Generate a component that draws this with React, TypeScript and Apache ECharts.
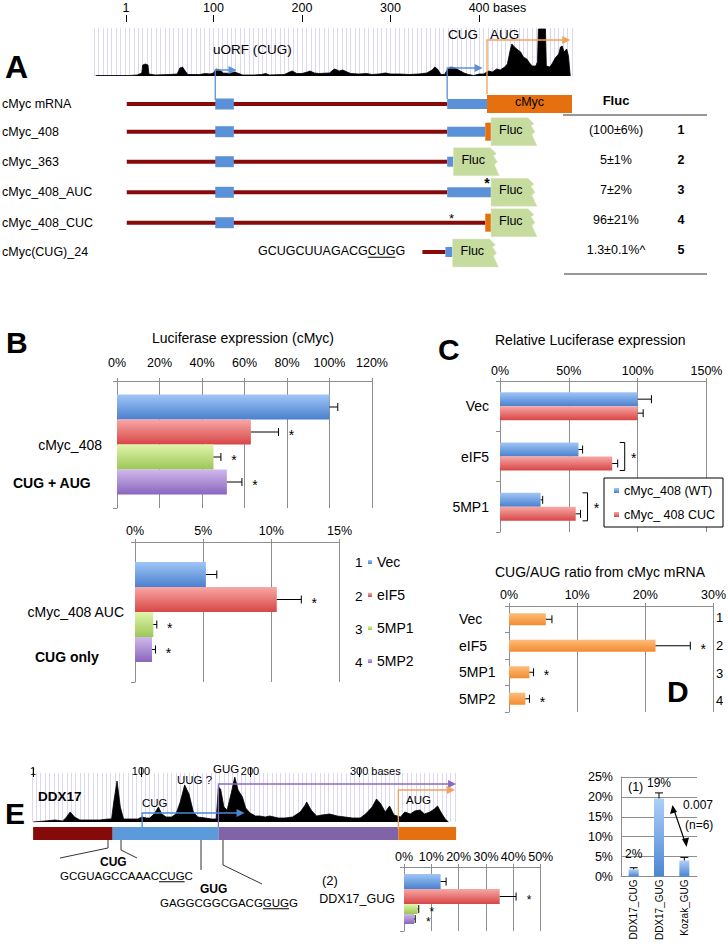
import React, { useEffect, useRef } from 'react';
import * as echarts from 'echarts';

const FONT = '"Liberation Sans", Arial, Helvetica, sans-serif';

// ---------------- Panel A : ribosome footprint coverage on cMyc ----------------
const rulerTicksA = [1, 100, 200, 300, 400];
const coverageA_pos = [-33, 5, 14, 19, 20, 23, 26, 27, 34, 50, 59, 62, 65, 68, 71, 84, 91, 96, 100, 103, 107, 111, 118, 124, 127, 133, 146, 154, 159, 163, 180, 186, 189, 194, 200, 206, 209, 214, 219, 231, 235, 237, 242, 246, 251, 255, 264, 273, 279, 287, 294, 300, 310, 321, 332, 341, 347, 350, 353, 357, 361, 364, 366, 368, 373, 377, 383, 388, 394, 400, 405, 411, 415, 420, 424, 429, 432, 435, 437, 440, 444, 447, 450, 454, 457, 460, 464, 466, 467, 475, 476, 480, 483, 486, 490, 492, 494, 496, 499, 501, 503];
const coverageA_reads = [0.5, 0.5, 1, 3, 11, 12, 11, 2, 1, 1.5, 2, 8, 9, 5, 1.5, 1.5, 2.5, 2, 3, 7, 6, 3, 2.5, 4, 3, 1, 1, 1.5, 2.5, 1, 1.5, 4, 5, 2.5, 2.5, 4, 5, 3, 2.5, 3, 6, 7, 5, 6, 4, 2.5, 2, 2.5, 1.5, 2, 3, 2, 2, 1.5, 2, 3, 6, 9, 7, 1.5, 1.5, 6, 8, 9, 8, 6, 3, 1.5, 0.5, 2, 2, 5, 4, 7, 6, 9, 12, 25, 32, 29, 26, 24, 19, 17, 13, 10, 10, 14, 47, 47, 10, 9, 13, 18, 22, 29, 30, 24, 27, 20, 0];
const constructNames = ['cMyc mRNA', 'cMyc_408', 'cMyc_363', 'cMyc_408_AUC', 'cMyc_408_CUC', 'cMyc(CUG)_24'];
const flucValues = ['(100\u00b16%)', '5\u00b11%', '7\u00b12%', '96\u00b121%', '1.3\u00b10.1%^'];
const flucIds = ['1', '2', '3', '4', '5'];

// ---------------- Panel B ----------------
const bSeriesNames = ['Vec', 'eIF5', '5MP1', '5MP2'];
const bTopCategory = ['cMyc_408'];
const bTop_values = [100, 63.0, 45.4, 51.7];
const bTop_errors = [103.9, 76.0, 48.9, 58.8];
const bTop_stars = [false, true, true, true];
const bBotCategory = ['cMyc_408 AUC'];
const bBot_values = [5.2, 10.4, 1.34, 1.25];
const bBot_errors = [6.0, 12.2, 1.6, 1.5];
const bBot_stars = [false, true, true, true];

// ---------------- Panel C ----------------
const cCategories = ['Vec', 'eIF5', '5MP1'];
const cSeriesNames = ['cMyc_408 (WT)', 'cMyc_ 408 CUC'];
const cWT_values = [100, 57, 29.5];
const cWT_errors = [110, 60, 31];
const cCUC_values = [100, 81.5, 55];
const cCUC_errors = [104, 85.5, 58.5];
const cPairStars = [false, true, true];

// ---------------- Panel D ----------------
const dCategories = ['Vec', 'eIF5', '5MP1', '5MP2'];
const dValues = [5.4, 21.5, 3.0, 2.4];
const dErrors = [6.3, 26.6, 3.6, 3.0];
const dStars = [false, true, true, true];

// ---------------- Panel E ----------------
const rulerTicksE = [1, 100, 200, 300];
const coverageE_pos = [1, 12, 21, 28, 31, 35, 39, 44, 53, 62, 70, 73, 75, 78, 81, 84, 90, 97, 101, 105, 108, 112, 116, 119, 123, 128, 132, 136, 140, 144, 148, 152, 159, 165, 169, 171, 173, 176, 179, 183, 186, 189, 193, 196, 200, 205, 209, 214, 218, 226, 232, 239, 246, 250, 252, 256, 261, 266, 273, 280, 287, 294, 301, 306, 312, 316, 320, 324, 328, 332, 338, 342, 347, 351, 356, 360, 365, 369, 372, 375, 379, 382];
const coverageE_reads = [0, 1, 2, 1, 4, 10, 5, 2, 2, 2, 3, 3, 20, 41, 15, 3, 3, 3, 5, 4, 4, 8, 15, 8, 5, 5, 8, 20, 37, 28, 10, 5, 4, 3, 3, 35, 33, 15, 12, 30, 45, 32, 25, 14, 9, 6, 6, 5, 6, 4, 4, 5, 10, 16, 20, 12, 6, 7, 8, 6, 5, 4, 4, 8, 15, 23, 18, 10, 16, 7, 5, 10, 8, 11, 12, 8, 10, 13, 16, 10, 3, 0];
const eMidCategory = ['DDX17_GUG'];
const eMid_values = [13.4, 35.0, 5.0, 3.7];
const eMid_errors = [15.4, 41.0, 5.4, 4.1];
const eMid_stars = [false, true, true, true];
const eRight_categories = ['DDX17_CUG', 'DDX17_GUG', 'Kozak_GUG'];
const eRight_values = [1.8, 19.6, 4.0];
const eRight_errors = [2.2, 21.0, 4.8];
const eRight_labels = ['2%', '19%', ''];

// ---------------- styling ----------------
const GRAY = '#8e8e8e';
const grad = (a: string, b: string) =>
  new echarts.graphic.LinearGradient(0, 0, 0, 1, [
    { offset: 0, color: a },
    { offset: 1, color: b },
  ]);
const BLUE = ['#A0C6F6', '#4A80CF'];
const RED = ['#F8A8A6', '#D74646'];
const GREEN = ['#E0F5AA', '#9CC657'];
const PURPLE = ['#D0B9EC', '#8966BC'];
const ORANGE = ['#FDBD7A', '#F38B30'];
const FOUR = [BLUE, RED, GREEN, PURPLE];

const measureCtx = typeof document !== 'undefined' ? document.createElement('canvas').getContext('2d') : null;
function textW(t: string, size: number, bold = false) {
  if (!measureCtx) return t.length * size * 0.6;
  measureCtx.font = `${bold ? 'bold ' : ''}${size}px ${FONT}`;
  return measureCtx.measureText(t).width;
}

function txt(text: string, x: number, y: number, size = 12.5, o: any = {}) {
  return {
    type: 'text', x, y, silent: true, z: o.z ?? 20,
    style: {
      text, fill: o.color || '#000', fontSize: size, fontFamily: FONT,
      fontWeight: o.bold ? 'bold' : 'normal', align: o.align || 'left', verticalAlign: 'middle',
    },
  };
}
function rect(x: number, y: number, w: number, h: number, fill: string, z = 10) {
  return { type: 'rect', silent: true, z, shape: { x, y, width: w, height: h }, style: { fill } };
}
function line(pts: number[][], stroke: string, w = 1, z = 12) {
  return { type: 'polyline', silent: true, z, shape: { points: pts }, style: { stroke, lineWidth: w, fill: 'none' } };
}
function headR(x: number, y: number, color: string, s = 4) {
  return { type: 'polygon', silent: true, z: 13, shape: { points: [[x, y], [x - 2 * s, y - s], [x - 2 * s, y + s]] }, style: { fill: color } };
}
function underlinedSeq(pre: string, mid: string, post: string, x: number, y: number, size: number) {
  const w0 = textW(pre, size);
  const w1 = textW(mid, size);
  return [
    txt(pre + mid + post, x, y, size),
    line([[x + w0, y + size * 0.5], [x + w0 + w1, y + size * 0.5]], '#000', 1),
  ];
}
function flucShape(x0: number, yc: number) {
  const t = yc - 14;
  const pts = [[0, 0], [37, 0], [43, 6], [40, 8], [44, 14], [41, 17], [46, 28], [0, 28]].map(([a, b]) => [x0 + a, t + b]);
  return [
    { type: 'polygon', silent: true, z: 11, shape: { points: pts }, style: { fill: '#C6DB9E', stroke: '#dfe9cc', lineWidth: 0.5 } },
    txt('Fluc', x0 + 8, yc - 2, 12.5, { z: 14 }),
  ];
}

// horizontal bar group with error bars drawn through the axes
function hBars(opts: any) {
  const { names, xi, data, err, stars, colors, widths, starGap = 13, starSize = 14, z = 3 } = opts;
  const total = widths.reduce((a: number, b: number) => a + b, 0);
  const out: any[] = [];
  let acc = -total / 2;
  names.forEach((name: string, i: number) => {
    const off = acc + widths[i] / 2;
    acc += widths[i];
    out.push({
      type: 'bar', name, xAxisIndex: xi, yAxisIndex: xi, data: data[i], barWidth: widths[i], barGap: '0%',
      itemStyle: { color: grad(colors[i][0], colors[i][1]) }, z, silent: true,
    });
    out.push({
      type: 'custom', name: name + ' err', xAxisIndex: xi, yAxisIndex: xi, z: z + 2, silent: true,
      encode: { x: [1, 2], y: 0 },
      data: data[i].map((v: number, c: number) => [c, v, err[i][c], stars[i][c] ? 1 : 0]),
      renderItem: (params: any, api: any) => {
        const c = api.value(0), v = api.value(1), e = api.value(2), s = api.value(3);
        const p0 = api.coord([v, c]);
        const p1 = api.coord([e, c]);
        const y = p0[1] + off;
        const ch: any[] = [
          { type: 'line', shape: { x1: p0[0], y1: y, x2: p1[0], y2: y }, style: { stroke: '#000', lineWidth: 1 } },
          { type: 'line', shape: { x1: p1[0], y1: y - 4, x2: p1[0], y2: y + 4 }, style: { stroke: '#000', lineWidth: 1 } },
        ];
        if (s) ch.push({ type: 'text', x: p1[0] + starGap, y: y + 3, style: { text: '*', fontSize: starSize, fontFamily: FONT, fill: '#000', align: 'center', verticalAlign: 'middle' } });
        return { type: 'group', children: ch };
      },
    });
  });
  return out;
}

function pctAxis(gi: number, max: number, interval: number, margin: number) {
  return {
    type: 'value', gridIndex: gi, position: 'top', min: 0, max, interval,
    axisLine: { show: true, lineStyle: { color: GRAY } },
    axisTick: { show: true, length: 3, lineStyle: { color: GRAY } },
    axisLabel: { formatter: '{value}%', fontSize: 12.5, color: '#000', fontFamily: FONT, margin },
    splitLine: { show: true, lineStyle: { color: GRAY, width: 1 } },
  };
}
function catAxis(gi: number, data: string[], margin: number, o: any = {}) {
  return {
    type: 'category', gridIndex: gi, data, inverse: true,
    axisLine: { show: true, lineStyle: { color: GRAY } },
    axisTick: { show: true, length: 4, lineStyle: { color: GRAY } },
    axisLabel: { fontSize: o.size || 14, color: '#000', margin, fontFamily: FONT, align: o.align },
    splitLine: { show: false },
  };
}
function rulerAxis(gi: number, min: number, max: number, ticks: number[], offset: number, tickLen: number, margin: number, size: number) {
  const bw = textW(' bases', size);
  const last = ticks[ticks.length - 1];
  return {
    type: 'value', gridIndex: gi, position: 'top', min, max, offset,
    axisLine: { show: false },
    axisTick: { show: true, length: tickLen, customValues: ticks, lineStyle: { color: '#000' } },
    axisLabel: {
      customValues: ticks, margin, fontSize: size, color: '#000', fontFamily: FONT,
      formatter: (v: number) => (v === last ? `{p| }${v}{b| bases}` : String(v)),
      rich: { p: { width: bw, fontSize: size }, b: { fontSize: size, fontFamily: FONT, color: '#000' } },
    },
    splitLine: { show: false },
  };
}
function stripeAxis(gi: number, min: number, max: number, interval: number) {
  return {
    type: 'value', gridIndex: gi, position: 'bottom', min, max, interval,
    axisLine: { show: false }, axisTick: { show: false }, axisLabel: { show: false },
    splitLine: { show: true, lineStyle: { color: '#DCD7F2', width: 1 } },
  };
}

function buildOption() {
  // geometry helpers for schematic constructs (base -> pixel, same mapping as the coverage axes)
  const A_MIN = -35, A_MAX = 505, A_LEFT = 94, A_W = 478;
  const bx = (b: number) => A_LEFT + ((b - A_MIN) / (A_MAX - A_MIN)) * A_W;
  const E_MIN = 0, E_MAX = 388, E_LEFT = 32, E_W = 423;
  const ex = (b: number) => E_LEFT + ((b - E_MIN) / (E_MAX - E_MIN)) * E_W;

  const grid = [
    { left: A_LEFT, top: 28, width: A_W, height: 48 },
    { left: 117, top: 381, width: 255, height: 127 },
    { left: 135, top: 542, width: 204.5, height: 140 },
    { left: 500, top: 381, width: 206.5, height: 151 },
    { left: 509, top: 606, width: 204.5, height: 106 },
    { left: E_LEFT, top: 773, width: E_W, height: 49 },
    { left: 404, top: 867, width: 136.7, height: 64 },
    { left: 621, top: 777, width: 76, height: 99.5 },
  ].map((g) => ({ ...g, containLabel: false, outerBoundsMode: 'none' }));

  const xAxis: any[] = [
    stripeAxis(0, A_MIN, A_MAX, 5), // 0
    pctAxis(1, 120, 20, 12), // 1
    pctAxis(2, 15, 5, 5), // 2
    pctAxis(3, 150, 50, 4), // 3
    pctAxis(4, 30, 10, 4.5), // 4
    stripeAxis(5, E_MIN, E_MAX, 4), // 5
    pctAxis(6, 50, 10, 3.5), // 6
    {
      type: 'category', gridIndex: 7, data: eRight_categories, position: 'bottom',
      axisLine: { show: true, lineStyle: { color: GRAY } }, axisTick: { show: false },
      axisLabel: { rotate: 90, fontSize: 10, color: '#000', fontFamily: FONT, margin: 3 },
    }, // 7
    rulerAxis(0, A_MIN, A_MAX, rulerTicksA, 6, 7, 8, 12.5), // 8
    rulerAxis(5, E_MIN, E_MAX, rulerTicksE, -4, 9, 1, 11), // 9
  ];
  const yAxis: any[] = [
    { type: 'value', gridIndex: 0, min: 0, max: 48, show: false },
    catAxis(1, bTopCategory, 15),
    catAxis(2, bBotCategory, 11),
    catAxis(3, cCategories, 11),
    catAxis(4, dCategories, 50, { align: 'left' }),
    { type: 'value', gridIndex: 5, min: 0, max: 49, show: false },
    catAxis(6, eMidCategory, 9, { size: 12.5 }),
    {
      type: 'value', gridIndex: 7, min: 0, max: 25, interval: 5,
      axisLine: { show: true, lineStyle: { color: GRAY } }, axisTick: { show: false },
      axisLabel: { formatter: '{value}%', fontSize: 12.5, color: '#000', fontFamily: FONT, margin: 8 },
      splitLine: { show: true, lineStyle: { color: GRAY } },
    },
  ];

  const series: any[] = [];
  // coverage tracks
  series.push({
    type: 'line', name: 'cMyc footprints', xAxisIndex: 0, yAxisIndex: 0, silent: true, symbol: 'none',
    data: coverageA_pos.map((p, i) => [p, coverageA_reads[i]]),
    lineStyle: { color: '#000', width: 0.8 }, areaStyle: { color: '#000', opacity: 1 }, z: 4,
  });
  series.push({
    type: 'line', name: 'DDX17 footprints', xAxisIndex: 5, yAxisIndex: 5, silent: true, symbol: 'none',
    data: coverageE_pos.map((p, i) => [p, coverageE_reads[i]]),
    lineStyle: { color: '#000', width: 0.8 }, areaStyle: { color: '#000', opacity: 1 }, z: 4,
  });

  // B top
  series.push(...hBars({
    names: bSeriesNames, xi: 1, data: bTop_values.map((v) => [v]), err: bTop_errors.map((v) => [v]),
    stars: bTop_stars.map((s) => [s]), colors: FOUR, widths: [25, 25, 25, 25],
  }));
  // B bottom
  series.push(...hBars({
    names: bSeriesNames, xi: 2, data: bBot_values.map((v) => [v]), err: bBot_errors.map((v) => [v]),
    stars: bBot_stars.map((s) => [s]), colors: FOUR, widths: [25, 25, 25, 25],
  }));
  // C
  series.push(...hBars({
    names: cSeriesNames, xi: 3, data: [cWT_values, cCUC_values], err: [cWT_errors, cCUC_errors],
    stars: [cWT_values.map(() => false), cCUC_values.map(() => false)], colors: [BLUE, RED], widths: [14, 14],
  }));
  series.push({
    type: 'custom', name: 'C brackets', xAxisIndex: 3, yAxisIndex: 3, silent: true, z: 6,
    encode: { x: 1, y: 0 },
    data: cCategories.map((_, c) => [c, Math.max(cWT_errors[c], cCUC_errors[c]), cPairStars[c] ? 1 : 0]),
    renderItem: (params: any, api: any) => {
      if (!api.value(2)) return { type: 'group', children: [] };
      const p = api.coord([api.value(1), api.value(0)]);
      const x = p[0] + 7, y = p[1];
      return {
        type: 'group', children: [
          { type: 'polyline', shape: { points: [[x - 5, y - 14], [x, y - 14], [x, y + 14], [x - 5, y + 14]] }, style: { stroke: '#000', lineWidth: 1, fill: 'none' } },
          { type: 'text', x: x + 9, y: y + 1, style: { text: '*', fontSize: 14, fontFamily: FONT, fill: '#000', align: 'center', verticalAlign: 'middle' } },
        ],
      };
    },
  });
  // D
  series.push(...hBars({
    names: ['CUG/AUG ratio'], xi: 4, data: [dValues], err: [dErrors], stars: [dStars], colors: [ORANGE], widths: [12],
  }));
  // E middle
  series.push(...hBars({
    names: bSeriesNames, xi: 6, data: eMid_values.map((v) => [v]), err: eMid_errors.map((v) => [v]),
    stars: eMid_stars.map((s) => [s]), colors: FOUR, widths: [15, 15, 10, 10], starSize: 12,
  }));
  // E right (vertical)
  series.push({
    type: 'bar', name: 'GUG ratio', xAxisIndex: 7, yAxisIndex: 7, barWidth: 10, silent: true,
    data: eRight_values, itemStyle: { color: grad('#ADD0F7', '#4B85D2') },
    label: {
      show: true, position: 'top', distance: 9, fontSize: 12, fontFamily: FONT, color: '#000',
      formatter: (p: any) => eRight_labels[p.dataIndex],
    },
  });
  series.push({
    type: 'custom', name: 'GUG ratio err', xAxisIndex: 7, yAxisIndex: 7, silent: true, z: 6,
    encode: { x: 0, y: [1, 2] },
    data: eRight_values.map((v, i) => [i, v, eRight_errors[i]]),
    renderItem: (params: any, api: any) => {
      const p0 = api.coord([api.value(0), api.value(1)]);
      const p1 = api.coord([api.value(0), api.value(2)]);
      return {
        type: 'group', children: [
          { type: 'line', shape: { x1: p0[0], y1: p0[1], x2: p1[0], y2: p1[1] }, style: { stroke: '#000', lineWidth: 1 } },
          { type: 'line', shape: { x1: p1[0] - 4, y1: p1[1], x2: p1[0] + 4, y2: p1[1] }, style: { stroke: '#000', lineWidth: 1 } },
        ],
      };
    },
  });

  // ---------------- graphics (labels, schematic constructs) ----------------
  const g: any[] = [];
  const BLUE_BOX = '#5B91D9';
  const RED_LINE = '#860A0A';
  const ORANGE_BOX = '#E6700F';
  const ORANGE_ARROW = '#F4A25A';

  // Panel letters
  g.push(txt('A', 5, 67, 32, { bold: true }));
  g.push(txt('B', 6, 342, 30, { bold: true }));
  g.push(txt('C', 438, 349, 30, { bold: true }));
  g.push(txt('D', 667, 691, 30, { bold: true }));
  g.push(txt('E', 5, 813, 30, { bold: true }));

  // ---- Panel A ----
  g.push(txt('uORF (CUG)', 213, 49, 13.5));
  g.push(txt('CUG', 448, 34, 13.5));
  g.push(txt('AUG', 490, 34, 13.5));
  const rowsY = [104, 131.7, 161.7, 192.3, 222.7, 252];
  constructNames.forEach((n, i) => g.push(txt(n, 2, rowsY[i], 12.5)));
  // arrows above constructs
  g.push(line([[bx(102), 100], [bx(102), 70], [bx(124), 70]], BLUE_BOX, 1.3));
  g.push(headR(bx(126), 70, BLUE_BOX));
  g.push(line([[bx(364), 99], [bx(364), 68], [bx(402), 68]], BLUE_BOX, 1.3));
  g.push(headR(bx(404), 68, BLUE_BOX));
  g.push(line([[bx(409), 94], [bx(409), 40], [bx(496), 40]], ORANGE_ARROW, 1.3));
  g.push(headR(bx(503), 40, ORANGE_ARROW));
  const redLine = (b0: number, b1: number, y: number) => rect(bx(b0), y - 2, bx(b1) - bx(b0), 4, RED_LINE);
  const box = (b0: number, b1: number, y: number, h: number, col: string) => rect(bx(b0), y - h / 2, bx(b1) - bx(b0), h, col, 11);
  // mRNA
  g.push(redLine(2, 364, rowsY[0]), box(102, 123, rowsY[0], 11, BLUE_BOX), box(364, 409, rowsY[0], 10, BLUE_BOX), box(409, 505, rowsY[0], 18, ORANGE_BOX));
  g.push(txt('cMyc', (bx(409) + bx(505)) / 2, rowsY[0] - 2, 12.5, { align: 'center', z: 15 }));
  // 408
  g.push(redLine(2, 364, rowsY[1]), box(102, 123, rowsY[1], 11, BLUE_BOX), box(364, 407, rowsY[1], 10, BLUE_BOX), box(407, 413.5, rowsY[1], 18, ORANGE_BOX), ...flucShape(bx(413.5), rowsY[1]));
  // 363
  g.push(redLine(2, 364, rowsY[2]), box(102, 123, rowsY[2], 11, BLUE_BOX), box(364, 371, rowsY[2], 10, BLUE_BOX), ...flucShape(bx(371), rowsY[2]));
  // AUC
  g.push(redLine(2, 364, rowsY[3]), box(102, 123, rowsY[3], 11, BLUE_BOX), box(364, 413.5, rowsY[3], 10, BLUE_BOX), ...flucShape(bx(413.5), rowsY[3]));
  g.push(txt('*', bx(409), rowsY[3] - 9, 14, { align: 'center', bold: true }));
  // CUC
  g.push(redLine(2, 407, rowsY[4]), box(102, 123, rowsY[4], 11, BLUE_BOX), box(407, 413.5, rowsY[4], 18, ORANGE_BOX), ...flucShape(bx(413.5), rowsY[4]));
  g.push(txt('*', bx(369), rowsY[4] - 4, 13, { align: 'center' }));
  // CUG_24
  g.push(redLine(336, 362, rowsY[5]), box(362, 370, rowsY[5], 10, BLUE_BOX), ...flucShape(bx(370), rowsY[5] + 1));
  g.push(...underlinedSeq('GCUGCUUAGACG', 'CUG', 'G', 258, rowsY[5] - 1, 12.5));
  // table
  g.push(txt('Fluc', 616, 100, 13, { bold: true, align: 'center' }));
  g.push(line([[563, 115], [707, 115]], '#333', 1));
  g.push(line([[564, 274], [707, 274]], '#333', 1));
  const tableY = [130.3, 160, 190, 219.7, 250];
  flucValues.forEach((v, i) => {
    g.push(txt(v, 616, tableY[i], 12.5, { align: 'center' }));
    g.push(txt(flucIds[i], 681, tableY[i], 12.5, { bold: true, align: 'center' }));
  });

  // ---- Panel B ----
  g.push(txt('Luciferase expression (cMyc)', 243, 338, 14, { align: 'center' }));
  g.push(txt('CUG + AUG', 13, 482.5, 14, { bold: true }));
  g.push(txt('CUG only', 35, 657, 14, { bold: true }));
  ['1', '2', '3', '4'].forEach((n, i) => g.push(txt(n, 355, [562, 596, 629, 662][i], 13.5)));

  // ---- Panel C / D ----
  g.push(txt('Relative Luciferase expression', 495, 339.5, 14));
  g.push(txt('CUG/AUG ratio from cMyc mRNA', 495, 572, 14));
  ['1', '2', '3', '4'].forEach((n, i) => g.push(txt(n, 716, [617, 645, 673, 700][i], 13)));

  // ---- Panel E diagram ----
  g.push(txt('DDX17', 38, 796, 13.5, { bold: true }));
  g.push(txt('CUG', 142, 803, 11.5));
  g.push(txt('UUG ?', 177, 780, 11.5));
  g.push(txt('GUG', 213, 769, 11.5));
  g.push(txt('AUG', 406, 800, 11.5));
  const eBarTop = 827, eBarH = 13;
  const ebox = (b0: number, b1: number, col: string) => rect(ex(b0), eBarTop, ex(b1) - ex(b0), eBarH, col, 11);
  g.push(ebox(1, 74, RED_LINE), ebox(74, 171, '#5B9BDB'), ebox(171, 336, '#8064A8'), ebox(336, 389, ORANGE_BOX));
  const E_BLUE = '#4A86CF', E_PURPLE = '#8A6BC2';
  g.push(line([[ex(101), eBarTop], [ex(101), 813], [ex(190), 813]], E_BLUE, 1.3));
  g.push(headR(ex(195), 813, E_BLUE));
  g.push(line([[ex(171), eBarTop], [ex(171), 784], [ex(382), 784]], E_PURPLE, 1.3));
  g.push(headR(ex(389), 784, E_PURPLE));
  g.push(line([[ex(336), eBarTop + 2], [ex(336), 790], [ex(382), 790]], ORANGE_ARROW, 1.3));
  g.push(headR(ex(388), 790, ORANGE_ARROW));
  // callouts to sequences
  g.push(line([[108, 840], [108, 848], [60, 858]], '#000', 0.8));
  g.push(line([[121, 840], [121, 850], [137, 858]], '#000', 0.8));
  g.push(line([[201, 840], [201, 870]], '#000', 0.8));
  g.push(line([[223, 840], [223, 865], [262, 884]], '#000', 0.8));
  g.push(txt('CUG', 100, 862, 12, { bold: true }));
  g.push(...underlinedSeq('GCGUAGCCAAAC', 'CUG', 'C', 60, 876, 11.5));
  g.push(txt('GUG', 200, 889, 12, { bold: true }));
  g.push(...underlinedSeq('GAGGCGGCGACG', 'GUG', 'G', 160, 903, 11.5));
  g.push(txt('(2)', 322, 880, 13));
  // E right annotations
  g.push(txt('(1)', 628, 787, 12.5));
  g.push(txt('0.007', 683, 805, 12));
  g.push(txt('(n=6)', 685, 825, 12));
  g.push(line([[674, 810], [685, 842]], '#000', 1.2));
  g.push({ type: 'polygon', silent: true, z: 13, shape: { points: [[672.5, 805], [670, 814], [677, 812]] }, style: { fill: '#000' } });
  g.push({ type: 'polygon', silent: true, z: 13, shape: { points: [[686.5, 847], [682, 839], [689, 837.5]] }, style: { fill: '#000' } });

  return {
    animation: false,
    textStyle: { fontFamily: FONT },
    grid, xAxis, yAxis, series,
    legend: [
      {
        data: bSeriesNames, orient: 'vertical', left: 368, top: 555, itemWidth: 4, itemHeight: 4, itemGap: 19,
        icon: 'rect', selectedMode: false, padding: 0, textStyle: { fontSize: 14, fontFamily: FONT, color: '#000' },
      },
      {
        data: cSeriesNames, orient: 'vertical', left: 604, top: 478, itemWidth: 5, itemHeight: 5, itemGap: 11,
        icon: 'rect', selectedMode: false, padding: [6, 8, 6, 10], backgroundColor: '#fff', borderColor: '#000', borderWidth: 1,
        textStyle: { fontSize: 12.5, fontFamily: FONT, color: '#000' }, z: 10,
      },
    ],
    graphic: { elements: g },
  };
}

export default function App() {
  const ref = useRef<HTMLDivElement>(null);
  useEffect(() => {
    document.body.style.margin = '0';
    const chart = echarts.init(ref.current!, null, { renderer: 'svg' });
    chart.setOption(buildOption() as any);
    return () => chart.dispose();
  }, []);
  return <div ref={ref} style={{ width: 728, height: 944 }} />;
}
